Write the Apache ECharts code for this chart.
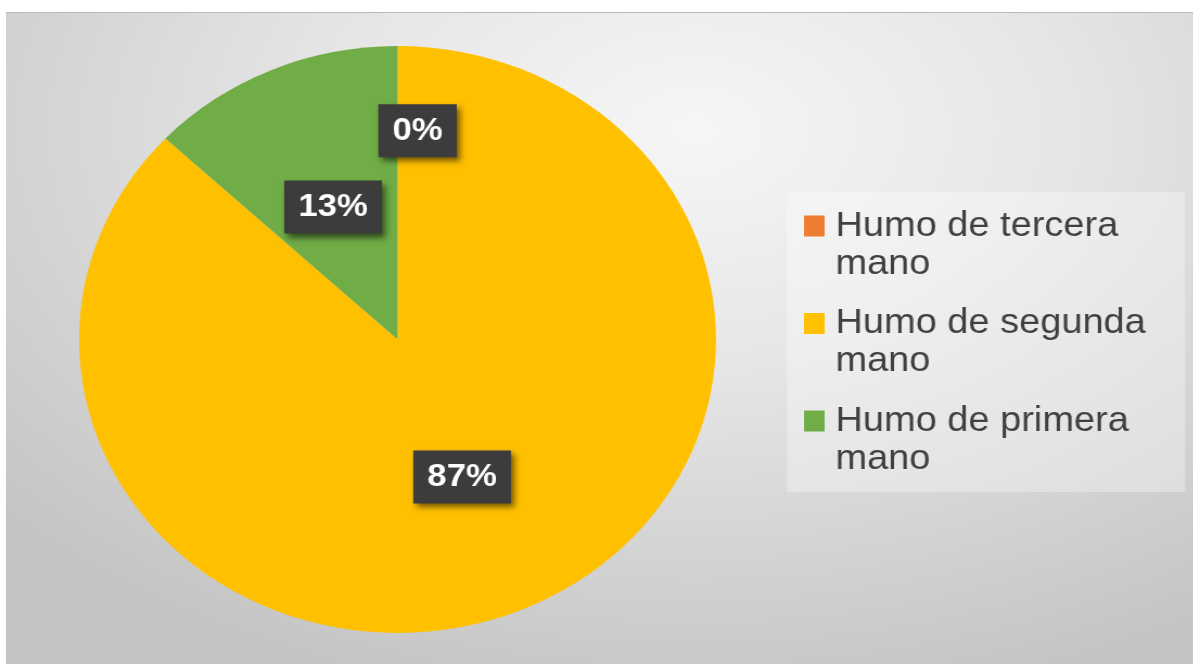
<!DOCTYPE html>
<html>
<head>
<meta charset="utf-8">
<script src="https://cdn.jsdelivr.net/npm/echarts@6/dist/echarts.min.js"></script>
<style>
  html, body { margin: 0; padding: 0; background: #fff; width: 1193px; height: 664px; overflow: hidden; }
  #frame {
    position: absolute; left: 6px; top: 12px; width: 1187px; height: 652px;
    box-sizing: border-box;
    border-top: 1px solid #b9b9b9;
    background: radial-gradient(ellipse 78% 90% at 58% 18%, #f6f6f6 0%, #e6e6e6 40%, #d2d2d2 75%, #c4c4c4 100%);
  }
  /* the drawing is laid out 1100px wide and widened to the full window */
  #chart { position: absolute; left: 0; top: 0; width: 1100px; height: 664px; transform: scaleX(1.085); transform-origin: 0 0; }
</style>
</head>
<body>
<div id="frame"></div>
<div id="chart"></div>
<script>
// Tipos de exposición al humo (porcentaje de respuestas)
const categories = ['Humo de tercera mano', 'Humo de segunda mano', 'Humo de primera mano'];
const shares = [0, 87, 13];
const sliceColors = ['#ED7D31', '#FFC000', '#70AD47'];

const chart = echarts.init(document.getElementById('chart'), null, { renderer: 'canvas' });

const pieData = categories.map((name, i) => ({
  name: name,
  value: shares[i],
  itemStyle: { color: sliceColors[i] }
}));

// extra nudges for the value boxes, by slice index
const labelNudge = { 0: { dx: 18.4, dy: -59 }, 2: { dx: 0, dy: 5 } };

const option = {
  animation: false,
  graphic: [{
    type: 'rect',
    silent: true,
    shape: { x: 725.3, y: 192, width: 366.9, height: 300 },
    style: { fill: 'rgba(255,255,255,0.32)' },
    z: 0
  }],
  legend: {
    orient: 'vertical',
    left: 741,
    top: 169,
    padding: 0,
    itemGap: -16.5,
    itemWidth: 19,
    itemHeight: 21,
    icon: 'rect',
    selectedMode: false,
    data: categories,
    // leading empty line keeps the marker level with the first text line
    formatter: name => '\n' + name.replace(/ (\S+)$/, '\n$1'),
    textStyle: {
      fontFamily: '"Liberation Sans", Arial, sans-serif',
      fontSize: 35,
      lineHeight: 38,
      color: '#404040',
      padding: [0, 0, 0, 5]
    }
  },
  series: [{
    type: 'pie',
    center: [366.4, 339.5],
    radius: [0, 293.5],
    startAngle: 90,
    clockwise: true,
    avoidLabelOverlap: false,
    silent: true,
    itemStyle: { borderWidth: 0 },
    label: {
      show: true,
      position: 'inside',
      formatter: '{d}%',
      fontFamily: '"Liberation Sans", Arial, sans-serif',
      fontWeight: 'bold',
      fontSize: 32,
      lineHeight: 34,
      color: '#ffffff',
      backgroundColor: '#3c3c3c',
      padding: [10, 13, 9, 13],
      shadowColor: 'rgba(0,0,0,0.55)',
      shadowBlur: 6,
      shadowOffsetX: 3,
      shadowOffsetY: 4
    },
    labelLine: { show: false },
    labelLayout: function (params) {
      return labelNudge[params.dataIndex] || {};
    },
    data: pieData
  }]
};

chart.setOption(option);
</script>
</body>
</html>
